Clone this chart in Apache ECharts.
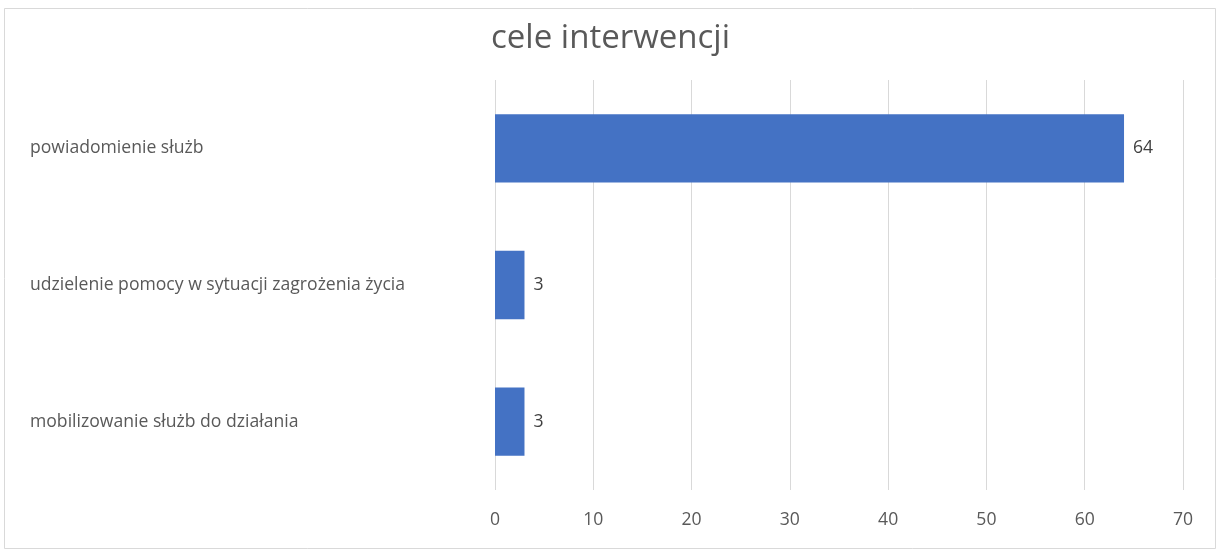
<!DOCTYPE html>
<html>
<head>
<meta charset="utf-8">
<script src="https://cdn.jsdelivr.net/npm/echarts@6/dist/echarts.min.js"></script>
<style>
  html, body { margin: 0; padding: 0; background: #fff; }
  #chart { width: 1221px; height: 557px; }
</style>
</head>
<body>
<div id="chart"></div>
<script>
var categories = [
  'powiadomienie służb',
  'udzielenie pomocy w sytuacji zagrożenia życia',
  'mobilizowanie służb do działania'
];
var values = [64, 3, 3];
var tickMin = 0, tickMax = 70, tickStep = 10;

var myChart = echarts.init(document.getElementById('chart'));

var font = '"Open Sans", "Noto Sans", sans-serif';

var option = {
  backgroundColor: '#fff',
  animation: false,
  title: {
    text: 'cele interwencji',
    left: 'center',
    top: 17,
    textStyle: { fontFamily: font, fontSize: 33, fontWeight: 'normal', color: '#595959' }
  },
  graphic: [{
    type: 'rect',
    shape: { x: 4.5, y: 8.5, width: 1211, height: 540 },
    style: { fill: 'none', stroke: '#d9d9d9', lineWidth: 1 },
    silent: true
  }],
  grid: { left: 495, right: 38, top: 80, bottom: 67, outerBoundsMode: 'none' },
  xAxis: {
    type: 'value',
    min: tickMin,
    max: tickMax,
    interval: tickStep,
    axisLine: { show: false },
    axisTick: { show: false },
    axisLabel: { fontFamily: font, fontSize: 17.6, color: '#595959', margin: 21 },
    splitLine: { lineStyle: { color: '#d9d9d9', width: 1 } }
  },
  yAxis: {
    type: 'category',
    inverse: true,
    data: categories,
    axisLine: { show: false },
    axisTick: { show: false },
    axisLabel: {
      fontFamily: font, fontSize: 17.6, color: '#595959',
      align: 'left', margin: 465, padding: [7, 0, 0, 0]
    }
  },
  series: [{
    type: 'bar',
    data: values,
    barCategoryGap: '50%',
    itemStyle: { color: '#4472c4' },
    label: {
      show: true,
      position: 'right',
      distance: 9,
      padding: [6, 0, 0, 0],
      fontFamily: font,
      fontSize: 17.6,
      color: '#404040'
    }
  }]
};

myChart.setOption(option);
window.addEventListener('resize', function () {
  myChart.resize();
});
</script>
</body>
</html>
